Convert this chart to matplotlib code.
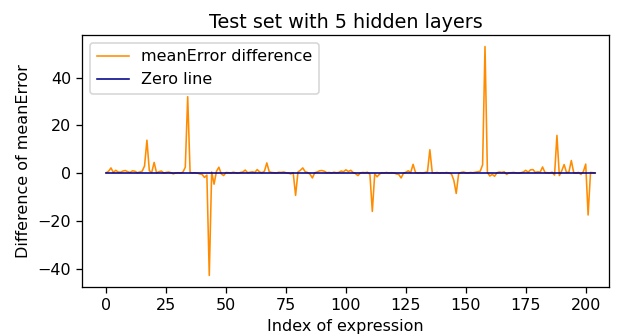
import numpy as np
import matplotlib
matplotlib.use('Agg')
import matplotlib.pyplot as plt

# difference of meanError per expression index
mean_error_diff = [
  0.2, 0.8, 2.2, 0.3, 1.2, 0.5, 0.4, 0.9, 1.1, 0.6,
  0.3, 1.0, 0.8, 0.2, 0.5, 0.8, 3.0, 13.8, 1.0, 0.3,
  4.5, 0.2, 0.6, 0.9, 0.1, 0.3, 0.5, 0.2, -0.3, 0.1,
  0.2, 0.1, 0.4, 2.5, 32.0, 0.3, 0.1, 0.2, 0.0, -0.3,
  -0.5, -1.8, -0.8, -42.8, 0.5, -4.6, 0.8, 2.5, -0.3, -1.0,
  0.3, 0.2, 0.1, 0.4, 0.2, 0.0, 0.3, 0.5, 1.3, 0.2,
  0.4, 0.6, 0.3, 1.5, 0.5, 0.2, 0.8, 4.3, 0.6, 0.3,
  0.2, 0.1, 0.4, 0.3, 0.5, 0.2, 0.0, -0.3, 0.2, -9.3,
  0.5, 1.2, 2.2, 0.6, 0.3, -0.4, -2.0, 0.2, 0.5, 1.0,
  1.1, 0.8, 0.2, 0.3, 0.1, 0.4, 0.2, 0.3, 0.9, 0.6,
  1.4, 0.7, 1.2, 0.3, -0.2, -1.0, 0.1, 0.3, 0.2, 0.4,
  -0.5, -16.0, -0.3, -1.5, -0.4, 0.2, 0.1, 0.3, 0.0, 0.2,
  0.1, -0.3, -0.5, -2.0, 0.0, 0.4, 1.0, 0.2, 3.7, 0.3,
  0.1, 0.2, 0.0, 0.3, 0.5, 9.8, 0.2, 0.1, 0.3, 0.0,
  0.2, 0.1, 0.3, 0.0, -0.3, -3.0, -8.5, -0.2, 0.3, 0.5,
  0.2, 0.1, 0.3, 0.2, 0.4, 0.6, 0.8, 3.5, 53.0, 0.3,
  -1.2, -0.5, -1.3, 0.2, 0.5, 0.3, 0.6, -0.5, 0.1, 0.2,
  0.3, 0.1, 0.0, 0.2, 0.5, 1.2, 0.4, 1.4, 1.5, 0.3,
  0.6, 0.4, 2.6, 0.3, 0.2, 0.1, 0.4, -0.8, 15.8, -1.0,
  1.0, 3.6, 0.3, 0.5, 5.3, 0.2, 0.1, 0.3, -0.5, 0.6,
  3.8, -17.5, 0.3, 0.2, 0.1,
]
index = np.arange(len(mean_error_diff))
zero_line = np.zeros(len(mean_error_diff))

dpi = 115
fig, ax = plt.subplots(figsize=(618 / dpi, 334 / dpi), dpi=dpi)
fig.subplots_adjust(left=0.133, right=0.985, top=0.895, bottom=0.141)

ax.plot(index, mean_error_diff, color='darkorange', linewidth=1, label='meanError difference')
ax.plot(index, zero_line, color='darkblue', linewidth=1, label='Zero line')

ax.set_xlim(-10, 209.6)
ax.set_title('Test set with 5 hidden layers', pad=4.5)
ax.set_xlabel('Index of expression')
ax.set_ylabel('Difference of meanError')
ax.legend(loc='upper left')

fig.savefig('out.png', dpi=dpi)
